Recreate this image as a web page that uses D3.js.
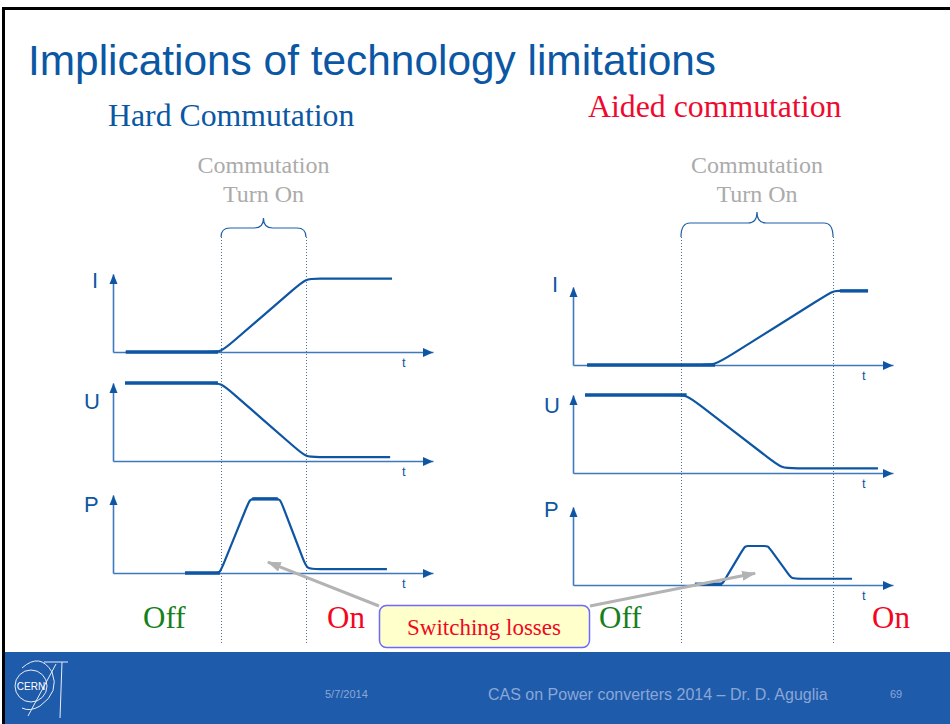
<!DOCTYPE html>
<html>
<head>
<meta charset="utf-8">
<script src="https://cdn.jsdelivr.net/npm/d3@7"></script>
<style>
  body { margin: 0; background: #fff; }
  svg { display: block; }
</style>
</head>
<body>
<div id="vis"></div>
<script>
// every t axis runs 0..100, every vertical axis 0..1 (arrow tip = 1)
var hardI = [[4, 0], [33.75, 0], [60.3, 0.94], [87.2, 0.94]];
var hardU = [[3.75, 1], [33.75, 1], [60.3, 0.05], [86.6, 0.05]];
var hardP = [[22.5, 0], [33.4, 0], [42.8, 0.95], [52.2, 0.95], [60.6, 0.05], [85.6, 0.05]];
var aidedI = [[4.4, 0], [44.4, 0], [81.25, 0.95], [92.2, 0.95]];
var aidedU = [[3.75, 1], [35.5, 1], [65.3, 0.06], [95.3, 0.06]];
var aidedP = [[38.1, 0.01], [46.6, 0.01], [53.75, 0.5], [60.9, 0.5], [68.4, 0.08], [87.2, 0.08]];

// thick stretches drawn on top: [tStart, tEnd, value]
var hardIThick = [[4, 32.8, 0]];
var hardUThick = [[3.75, 32.8, 1]];
var hardPThick = [[22.5, 33.4, 0], [43.5, 51.5, 0.95]];
var aidedIThick = [[4.4, 44.4, 0], [83.4, 92.2, 0.95]];
var aidedUThick = [[3.75, 35.5, 1]];
var aidedPThick = [[38.1, 46.6, 0.01]];

// commutation start / end on the t axis
var hardTurnOn = [33.75, 60.3];
var aidedTurnOn = [33.75, 81.25];

// "Switching losses" arrows point at these spots of the P charts
var hardLossSpot = [48.4, 0.14];
var aidedLossSpot = [56.9, 0.15];

var blue = "#0e56a3", axisBlue = "#3f78bd";

var svg = d3.select("#vis").append("svg")
  .attr("width", 950)
  .attr("height", 724);

// slide frame
svg.append("path")
  .attr("d", "M3.5,724V8.5H950")
  .attr("fill", "none")
  .attr("stroke", "#000")
  .attr("stroke-width", 3);

svg.append("text")
  .attr("x", 28).attr("y", 75)
  .attr("font-family", "Liberation Sans, Arial, sans-serif")
  .attr("font-size", 42.4)
  .attr("fill", "#0b57a4")
  .text("Implications of technology limitations");

svg.append("text")
  .attr("x", 108).attr("y", 126)
  .attr("font-family", "Liberation Serif, Times New Roman, serif")
  .attr("font-size", 31.8)
  .attr("fill", "#0b57a4")
  .text("Hard Commutation");

svg.append("text")
  .attr("x", 588).attr("y", 117)
  .attr("font-family", "Liberation Serif, Times New Roman, serif")
  .attr("font-size", 31.8)
  .attr("fill", "#ee0a2e")
  .text("Aided commutation");

var sides = [
  { x0: 113, turnOn: hardTurnOn, braceY: 228, peakY: 218, lossSpot: hardLossSpot,
    offX: 143, onX: 327,
    charts: [
      { name: "I", y0: 352, data: hardI, thick: hardIThick, lx: 92, ly: 288 },
      { name: "U", y0: 461, data: hardU, thick: hardUThick, lx: 84, ly: 409 },
      { name: "P", y0: 573, data: hardP, thick: hardPThick, lx: 84, ly: 512 }
    ] },
  { x0: 573, turnOn: aidedTurnOn, braceY: 223, peakY: 212, lossSpot: aidedLossSpot,
    offX: 599, onX: 872,
    charts: [
      { name: "I", y0: 365, data: aidedI, thick: aidedIThick, lx: 552, ly: 292 },
      { name: "U", y0: 473, data: aidedU, thick: aidedUThick, lx: 544, ly: 413 },
      { name: "P", y0: 585, data: aidedP, thick: aidedPThick, lx: 544, ly: 517 }
    ] }
];

// corners are doubled so the basis spline only rounds them slightly
function cornered(pts) {
  var out = [pts[0]];
  for (var i = 1; i < pts.length - 1; i++) { out.push(pts[i], pts[i]); }
  out.push(pts[pts.length - 1]);
  return out;
}

sides.forEach(function (side) {
  var x = d3.scaleLinear().domain([0, 100]).range([side.x0, side.x0 + 320]);
  side.x = x;

  // dotted commutation guides
  side.turnOn.forEach(function (t) {
    svg.append("line")
      .attr("x1", Math.round(x(t)) + 0.5).attr("x2", Math.round(x(t)) + 0.5)
      .attr("y1", 237).attr("y2", 643)
      .attr("stroke", "#4d6f9e")
      .attr("stroke-width", 1)
      .attr("stroke-dasharray", "1,2");
  });

  // brace over the commutation
  var a = x(side.turnOn[0]), b = x(side.turnOn[1]), m = (a + b) / 2, r = 9;
  var p = d3.path();
  p.moveTo(a, 237);
  p.quadraticCurveTo(a, side.braceY, a + r, side.braceY);
  p.lineTo(m - r, side.braceY);
  p.quadraticCurveTo(m, side.braceY, m, side.peakY);
  p.quadraticCurveTo(m, side.braceY, m + r, side.braceY);
  p.lineTo(b - r, side.braceY);
  p.quadraticCurveTo(b, side.braceY, b, 237);
  svg.append("path")
    .attr("d", p.toString())
    .attr("fill", "none")
    .attr("stroke", "#1f5fa8")
    .attr("stroke-width", 1.2);

  var label = svg.append("text")
    .attr("text-anchor", "middle")
    .attr("font-family", "Liberation Serif, Times New Roman, serif")
    .attr("font-size", 24)
    .attr("fill", "#ababab");
  label.append("tspan").attr("x", m).attr("y", 173).text("Commutation");
  label.append("tspan").attr("x", m).attr("y", 202).text("Turn On");

  side.charts.forEach(function (c) {
    var y = d3.scaleLinear().domain([0, 1]).range([c.y0, c.y0 - 78]);
    c.y = y;
    var g = svg.append("g");

    var xAxis = d3.axisBottom(x).tickValues([]).tickSizeOuter(0);
    var yAxis = d3.axisLeft(y).tickValues([]).tickSizeOuter(0);
    g.append("g").attr("transform", "translate(0," + c.y0 + ")").call(xAxis);
    g.append("g").attr("transform", "translate(" + side.x0 + ",0)").call(yAxis);
    g.selectAll(".domain")
      .attr("stroke", axisBlue)
      .attr("stroke-width", 1.6);

    // arrow heads
    var tx = x(100), ty = c.y0 + 0.5;
    g.append("path")
      .attr("d", "M" + tx + "," + ty + "L" + (tx - 10) + "," + (ty - 4.5) + "L" + (tx - 10) + "," + (ty + 4.5) + "Z")
      .attr("fill", blue);
    var ax = side.x0 + 0.5, ay = y(1);
    g.append("path")
      .attr("d", "M" + ax + "," + ay + "L" + (ax - 4) + "," + (ay + 10) + "L" + (ax + 4) + "," + (ay + 10) + "Z")
      .attr("fill", blue);

    g.append("text")
      .attr("x", x(100) - 31).attr("y", c.y0 + 15)
      .attr("font-family", "Liberation Sans, Arial, sans-serif")
      .attr("font-size", 13)
      .attr("fill", blue)
      .text("t");

    g.append("text")
      .attr("x", c.lx).attr("y", c.ly)
      .attr("font-family", "Liberation Sans, Arial, sans-serif")
      .attr("font-size", 22)
      .attr("fill", blue)
      .text(c.name);

    var line = d3.line()
      .x(function (d) { return x(d[0]); })
      .y(function (d) { return y(d[1]); })
      .curve(d3.curveBasis);

    g.append("path")
      .attr("d", line(cornered(c.data)))
      .attr("fill", "none")
      .attr("stroke", blue)
      .attr("stroke-width", 2.2);

    g.selectAll(".thick")
      .data(c.thick)
      .join("line")
      .attr("class", "thick")
      .attr("x1", function (d) { return x(d[0]); })
      .attr("x2", function (d) { return x(d[1]); })
      .attr("y1", function (d) { return y(d[2]); })
      .attr("y2", function (d) { return y(d[2]); })
      .attr("stroke", blue)
      .attr("stroke-width", 3.4);
  });

  svg.append("text")
    .attr("x", side.offX).attr("y", 628)
    .attr("font-family", "Liberation Serif, Times New Roman, serif")
    .attr("font-size", 31)
    .attr("fill", "#16801a")
    .text("Off");
  svg.append("text")
    .attr("x", side.onX).attr("y", 628)
    .attr("font-family", "Liberation Serif, Times New Roman, serif")
    .attr("font-size", 31)
    .attr("fill", "#f2071d")
    .text("On");
});

// switching losses call-out
var defs = svg.append("defs");
defs.append("marker")
  .attr("id", "grayHead")
  .attr("markerUnits", "userSpaceOnUse")
  .attr("viewBox", "0 0 14 10")
  .attr("refX", 13).attr("refY", 5)
  .attr("markerWidth", 14).attr("markerHeight", 10)
  .attr("orient", "auto")
  .append("path")
  .attr("d", "M0,0L14,5L0,10Z")
  .attr("fill", "#b3b3b3");

var starts = [[379, 606], [590, 606]];
sides.forEach(function (side, i) {
  var pc = side.charts[2];
  svg.append("line")
    .attr("x1", starts[i][0]).attr("y1", starts[i][1])
    .attr("x2", side.x(side.lossSpot[0])).attr("y2", pc.y(side.lossSpot[1]))
    .attr("stroke", "#b3b3b3")
    .attr("stroke-width", 3)
    .attr("marker-end", "url(#grayHead)");
});

svg.append("rect")
  .attr("x", 379.5).attr("y", 605.5)
  .attr("width", 210).attr("height", 42)
  .attr("rx", 7)
  .attr("fill", "#ffffcc")
  .attr("stroke", "#6a6aff")
  .attr("stroke-width", 1.5);
svg.append("text")
  .attr("x", 484).attr("y", 635)
  .attr("text-anchor", "middle")
  .attr("font-family", "Liberation Serif, Times New Roman, serif")
  .attr("font-size", 23)
  .attr("fill", "#f2071d")
  .text("Switching losses");

// footer band
svg.append("rect")
  .attr("x", 5).attr("y", 652)
  .attr("width", 945).attr("height", 72)
  .attr("fill", "#1f5bab");

var logo = svg.append("g")
  .attr("fill", "none")
  .attr("stroke", "#e8eef8")
  .attr("stroke-width", 1);
logo.append("circle").attr("cx", 31).attr("cy", 686).attr("r", 16);
logo.append("path").attr("d", "M22,668Q40,652 52,672Q60,692 40,706Q30,712 22,708");
logo.append("path").attr("d", "M44,662H68M62,662L60,718M56,664L28,716");
logo.append("text")
  .attr("x", 31).attr("y", 690)
  .attr("text-anchor", "middle")
  .attr("stroke", "none")
  .attr("fill", "#ffffff")
  .attr("font-family", "Liberation Sans, Arial, sans-serif")
  .attr("font-size", 10)
  .text("CERN");

var footText = "#8aa7d6";
svg.append("text")
  .attr("x", 325).attr("y", 698)
  .attr("font-family", "Liberation Sans, Arial, sans-serif")
  .attr("font-size", 11)
  .attr("fill", footText)
  .text("5/7/2014");
svg.append("text")
  .attr("x", 488).attr("y", 700)
  .attr("font-family", "Liberation Sans, Arial, sans-serif")
  .attr("font-size", 16)
  .attr("fill", footText)
  .text("CAS on Power converters 2014 – Dr. D. Aguglia");
svg.append("text")
  .attr("x", 890).attr("y", 698)
  .attr("font-family", "Liberation Sans, Arial, sans-serif")
  .attr("font-size", 11)
  .attr("fill", footText)
  .text("69");
</script>
</body>
</html>
